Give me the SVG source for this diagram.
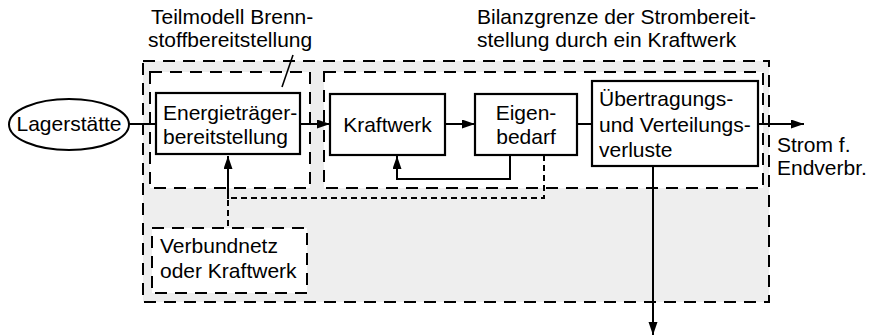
<svg xmlns="http://www.w3.org/2000/svg" width="872" height="336" viewBox="0 0 872 336">
<defs>
<style>
text{font-family:"Liberation Sans",Arial,sans-serif;font-size:21px;fill:#000}
.box{fill:#fff;stroke:#000;stroke-width:2.2}
.bound{stroke:#000;stroke-width:2;stroke-dasharray:12 8;fill:#fff}
.line{fill:none;stroke:#000;stroke-width:2}
.sdash{fill:none;stroke:#000;stroke-width:2;stroke-dasharray:6 4}
</style>
<marker id="ah" markerUnits="userSpaceOnUse" markerWidth="14" markerHeight="10" refX="13" refY="4.5" orient="auto">
<path d="M0,0 L13,4.5 L0,9 z" fill="#000"/>
</marker>
</defs>
<rect width="872" height="336" fill="#fff"/>
<g id="boundaries">
<rect x="143" y="61" width="626" height="241" class="bound" style="fill:#eeeeee"/>
<rect x="150" y="72" width="160" height="116" class="bound"/>
<rect x="324" y="72" width="439" height="116" class="bound"/>
</g>
<g id="labels">
<text x="151" y="24">Teilmodell Brenn-</text>
<text x="148" y="47">stoffbereitstellung</text>
<text x="477" y="24">Bilanzgrenze der Strombereit-</text>
<text x="477" y="47">stellung durch ein Kraftwerk</text>
<text x="777" y="152">Strom f.</text>
<text x="777" y="175">Endverbr.</text>
</g>
<g id="connectors">
<line x1="293" y1="55" x2="282" y2="87" stroke="#000" stroke-width="1.6"/>
<line x1="129" y1="124" x2="156" y2="124" class="line"/>
<line x1="300" y1="124" x2="330" y2="124" class="line" marker-end="url(#ah)"/>
<line x1="445" y1="124" x2="475" y2="124" class="line" marker-end="url(#ah)"/>
<line x1="577" y1="124" x2="592" y2="124" class="line"/>
<line x1="758" y1="124" x2="804" y2="124" class="line" marker-end="url(#ah)"/>
<line x1="653" y1="166" x2="653" y2="335" class="line" marker-end="url(#ah)"/>
<polyline points="510,155 510,179 397,179 397,156" class="line" marker-end="url(#ah)"/>
<polyline points="544,155 544,198 228,198" class="sdash"/>
<line x1="228" y1="199" x2="228" y2="156" class="line" marker-end="url(#ah)"/>
<line x1="228" y1="200" x2="228" y2="228" class="sdash"/>
</g>
<g id="lagerstaette">
<ellipse cx="69" cy="124.5" rx="60" ry="25.5" fill="#fff" stroke="#000" stroke-width="2"/>
<text x="69" y="131" text-anchor="middle">Lagerstätte</text>
</g>
<g id="energietraeger">
<rect x="156" y="93" width="144" height="61" class="box"/>
<text x="163" y="120">Energieträger-</text>
<text x="163" y="144">bereitstellung</text>
</g>
<g id="kraftwerk">
<rect x="330" y="94" width="115" height="61" class="box"/>
<text x="387.5" y="132" text-anchor="middle">Kraftwerk</text>
</g>
<g id="eigenbedarf">
<rect x="475" y="94" width="102" height="61" class="box"/>
<text x="526" y="120" text-anchor="middle">Eigen-</text>
<text x="526" y="144" text-anchor="middle">bedarf</text>
</g>
<g id="uebertragung">
<rect x="592" y="81" width="166" height="85" class="box"/>
<text x="599" y="106">Übertragungs-</text>
<text x="599" y="132">und Verteilungs-</text>
<text x="599" y="157">verluste</text>
</g>
<g id="verbundnetz">
<rect x="152" y="228" width="155" height="65" class="bound"/>
<text x="160" y="253">Verbundnetz</text>
<text x="160" y="278">oder Kraftwerk</text>
</g>
</svg>
